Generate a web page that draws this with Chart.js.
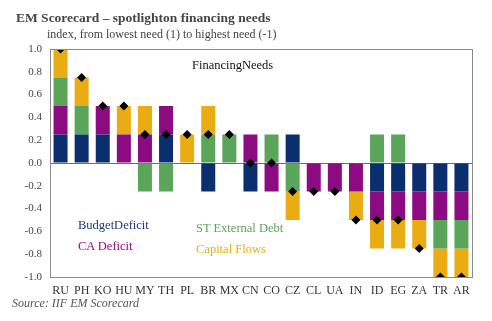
<!DOCTYPE html>
<html>
<head>
<meta charset="utf-8">
<script src="https://cdn.jsdelivr.net/npm/chart.js@4/dist/chart.umd.min.js"></script>
<style>
  html, body { margin: 0; padding: 0; background: #fff; }
  #wrap { position: relative; width: 492px; height: 321px; font-family: "Liberation Serif", "DejaVu Serif", serif; }
  #c { position: absolute; left: 0; top: 0; }
  .t { position: absolute; white-space: nowrap; line-height: 1; }
  #title { left: 16px; top: 11px; font-size: 13.5px; font-weight: bold; color: #454545; }
  #sub { left: 47px; top: 28px; font-size: 12px; color: #454545; }
  #src { left: 12px; top: 297px; font-size: 12px; font-style: italic; color: #555; }
  .lg { font-size: 12.5px; }
</style>
</head>
<body>
<div id="wrap">
  <canvas id="c" width="492" height="321"></canvas>
  <div class="t" id="title">EM Scorecard – spotlighton financing needs</div>
  <div class="t" id="sub">index, from lowest need (1) to highest need (-1)</div>
  <div class="t lg" style="left:192px;top:59px;color:#111;">FinancingNeeds</div>
  <div class="t lg" style="left:78px;top:219px;color:#1b3a78;">BudgetDeficit</div>
  <div class="t lg" style="left:78px;top:240px;color:#8c0a82;">CA Deficit</div>
  <div class="t lg" style="left:196px;top:222px;color:#5ba55a;">ST External Debt</div>
  <div class="t lg" style="left:196px;top:243px;color:#e9ac13;">Capital Flows</div>
  <div class="t" id="src">Source: IIF EM Scorecard</div>
</div>
<script>
const countries = ["RU", "PH", "KO", "HU", "MY", "TH", "PL", "BR", "MX", "CN", "CO", "CZ", "CL", "UA", "IN", "ID", "EG", "ZA", "TR", "AR"];
const budgetDeficit = [0.25, 0.25, 0.25, 0, 0, 0.25, 0, -0.25, 0, -0.25, 0, 0.25, 0, 0, 0, -0.25, -0.25, -0.25, -0.25, -0.25];
const caDeficit = [0.25, 0, 0.25, 0.25, 0.25, 0.25, 0, 0, 0, 0.25, -0.25, 0, -0.25, -0.25, -0.25, -0.25, -0.25, -0.25, -0.25, -0.25];
const stExternalDebt = [0.25, 0.25, 0, 0, -0.25, -0.25, 0, 0.25, 0.25, 0, 0.25, -0.25, 0, 0, 0, 0.25, 0.25, 0, -0.25, -0.25];
const capitalFlows = [0.25, 0.25, 0, 0.25, 0.25, 0, 0.25, 0.25, 0, 0, 0, -0.25, 0, 0, -0.25, -0.25, -0.25, -0.25, -0.25, -0.25];
const financingNeeds = [1.0, 0.75, 0.5, 0.5, 0.25, 0.25, 0.25, 0.25, 0.25, 0, 0, -0.25, -0.25, -0.25, -0.5, -0.5, -0.5, -0.75, -1.0, -1.0];
const yTicks = [-1.0, -0.8, -0.6, -0.4, -0.2, 0.0, 0.2, 0.4, 0.6, 0.8, 1.0];

const nz = (arr) => arr.map((v) => (v === 0 ? null : v));

function bar(label, data, color) {
  return {
    type: "bar",
    label: label,
    data: nz(data),
    backgroundColor: color,
    borderWidth: 0,
    stack: "parts",
    order: 1,
    barPercentage: 0.8,
    categoryPercentage: 0.83,
  };
}

const frame = {
  id: "frame",
  afterDatasetsDraw(chart) {
    const a = chart.chartArea;
    const ctx = chart.ctx;
    ctx.save();
    ctx.strokeStyle = "#8a8a8a";
    ctx.lineWidth = 1;
    ctx.strokeRect(Math.round(a.left) + 0.5, Math.round(a.top) + 0.5, Math.round(a.right - a.left), Math.round(a.bottom - a.top));
    ctx.restore();
  },
};

new Chart(document.getElementById("c"), {
  data: {
    labels: countries,
    datasets: [
      bar("BudgetDeficit", budgetDeficit, "#0b2f6e"),
      bar("CA Deficit", caDeficit, "#8c0a82"),
      bar("ST External Debt", stExternalDebt, "#5ba55a"),
      bar("Capital Flows", capitalFlows, "#e9ac13"),
      {
        type: "line",
        label: "FinancingNeeds",
        data: financingNeeds,
        showLine: false,
        stack: "needs",
        order: 0,
        pointStyle: "rectRot",
        pointRadius: 4.5,
        pointBackgroundColor: "#000",
        pointBorderColor: "#000",
        pointBorderWidth: 0,
      },
    ],
  },
  options: {
    responsive: false,
    animation: false,
    layout: { padding: { left: 0, top: 49, right: 20, bottom: 24 } },
    plugins: { legend: { display: false }, tooltip: { enabled: false } },
    scales: {
      x: {
        stacked: true,
        grid: { display: false, drawTicks: false },
        border: { display: false },
        ticks: { color: "#333", font: { family: "Liberation Serif", size: 12 }, padding: 7, maxRotation: 0, autoSkip: false },
        afterFit: (s) => { s.height = 20; },
      },
      y: {
        stacked: true,
        min: -1,
        max: 1,
        afterBuildTicks: (s) => { s.ticks = yTicks.map((v) => ({ value: v })); },
        grid: {
          drawTicks: false,
          color: (c) => (c.tick && Math.abs(c.tick.value) < 1e-9 ? "#6e6e6e" : "rgba(0,0,0,0)"),
        },
        border: { display: false },
        ticks: {
          color: "#444",
          font: { family: "Liberation Serif", size: 11 },
          padding: 8,
          callback: (v) => Number(v).toFixed(1),
        },
        afterFit: (s) => { s.width = 50; },
      },
    },
  },
  plugins: [frame],
});
</script>
</body>
</html>
